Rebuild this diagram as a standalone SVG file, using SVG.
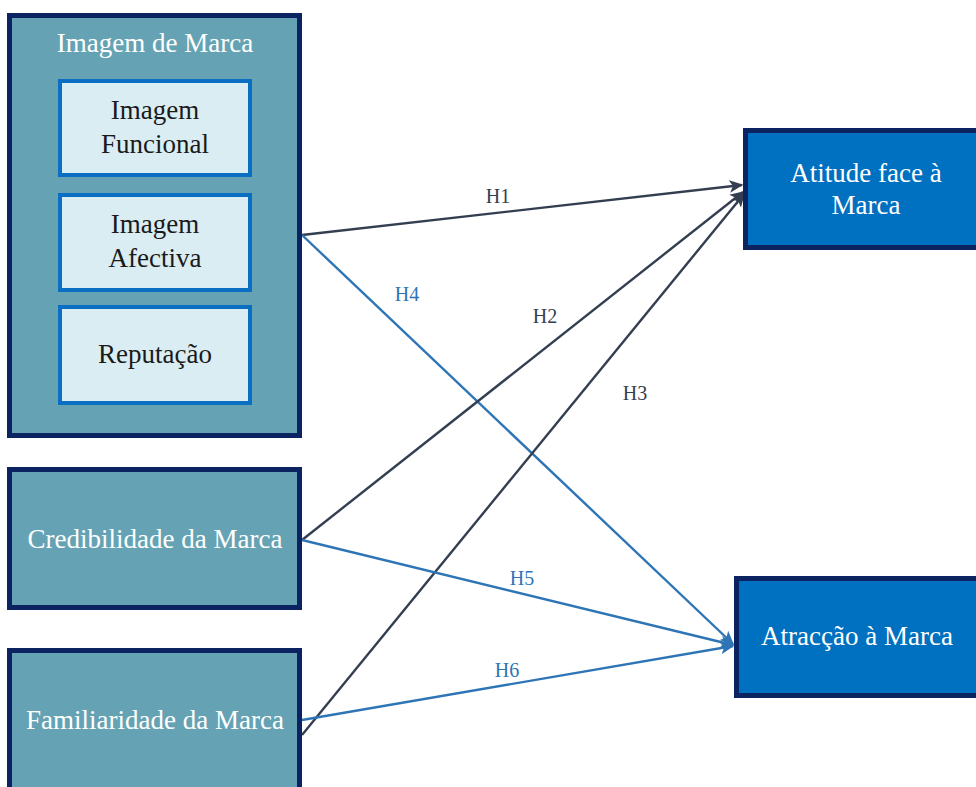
<svg xmlns="http://www.w3.org/2000/svg" width="976" height="787" viewBox="0 0 976 787">
  <defs>
    <marker id="arrDark" viewBox="0 0 10 10" refX="9" refY="5" markerWidth="14" markerHeight="14" markerUnits="userSpaceOnUse" orient="auto">
      <path d="M0,0.5 L10,5 L0,9.5 L2.5,5 Z" fill="#333f50"/>
    </marker>
    <marker id="arrBlue" viewBox="0 0 10 10" refX="9" refY="5" markerWidth="14" markerHeight="14" markerUnits="userSpaceOnUse" orient="auto">
      <path d="M0,0.5 L10,5 L0,9.5 L2.5,5 Z" fill="#2e75b6"/>
    </marker>
    <style>
      .outer { fill: #65a3b4; stroke: #0b2461; stroke-width: 5; }
      .inner { fill: #daedf3; stroke: #0a6fc2; stroke-width: 4; }
      .target { fill: #0070c0; stroke: #0b2461; stroke-width: 5; }
      .t { font-size: 27px; text-anchor: middle; }
      .w { fill: #ffffff; }
      .k { fill: #1a1a1a; }
      .lbl { font-size: 20px; text-anchor: middle; }
      .dark { stroke: #333f50; stroke-width: 2.4; fill: none; }
      .blue { stroke: #2e75b6; stroke-width: 2.4; fill: none; }
    </style>
  </defs>

  <rect width="976" height="787" fill="#ffffff"/>

  <g font-family="'Liberation Serif', 'Times New Roman', serif">
  <g id="connectors">
    <line class="dark" x1="302" y1="235" x2="742" y2="185" marker-end="url(#arrDark)"/>
    <line class="blue" x1="302" y1="235" x2="733" y2="644" marker-end="url(#arrBlue)"/>
    <line class="dark" x1="302" y1="540" x2="743" y2="192" marker-end="url(#arrDark)"/>
    <line class="dark" x1="302" y1="735" x2="744" y2="194" marker-end="url(#arrDark)"/>
    <line class="blue" x1="302" y1="540" x2="733" y2="645" marker-end="url(#arrBlue)"/>
    <line class="blue" x1="302" y1="720" x2="733" y2="646" marker-end="url(#arrBlue)"/>
    <text class="lbl" x="498" y="203" fill="#333f50">H1</text>
    <text class="lbl" x="545" y="323" fill="#333f50">H2</text>
    <text class="lbl" x="635" y="400" fill="#333f50">H3</text>
    <text class="lbl" x="407" y="301" fill="#2e75b6">H4</text>
    <text class="lbl" x="522" y="585" fill="#2e75b6">H5</text>
    <text class="lbl" x="507" y="677" fill="#2e75b6">H6</text>
  </g>

  <g id="imagem-marca">
    <rect class="outer" x="9.5" y="15.5" width="290" height="420"/>
    <text class="t w" x="155" y="52">Imagem de Marca</text>
  </g>

  <g id="imagem-funcional">
    <rect class="inner" x="60" y="81" width="190" height="94"/>
    <text class="t k" x="155" y="119">Imagem</text>
    <text class="t k" x="155" y="153">Funcional</text>
  </g>

  <g id="imagem-afectiva">
    <rect class="inner" x="60" y="195" width="190" height="95"/>
    <text class="t k" x="155" y="233">Imagem</text>
    <text class="t k" x="155" y="267">Afectiva</text>
  </g>

  <g id="reputacao">
    <rect class="inner" x="60" y="307" width="190" height="96"/>
    <text class="t k" x="155" y="363">Reputação</text>
  </g>

  <g id="credibilidade">
    <rect class="outer" x="9.5" y="469.5" width="290" height="138"/>
    <text class="t w" x="155" y="548">Credibilidade da Marca</text>
  </g>

  <g id="familiaridade">
    <rect class="outer" x="9.5" y="650.5" width="290" height="145"/>
    <text class="t w" x="155" y="729">Familiaridade da Marca</text>
  </g>

  <g id="atitude">
    <rect class="target" x="745.5" y="130.5" width="240" height="117"/>
    <text class="t w" x="866" y="182">Atitude face à</text>
    <text class="t w" x="866" y="214">Marca</text>
  </g>

  <g id="atraccao">
    <rect class="target" x="736.5" y="578.5" width="250" height="117"/>
    <text class="t w" x="857" y="645">Atracção à Marca</text>
  </g>
  </g>
</svg>
